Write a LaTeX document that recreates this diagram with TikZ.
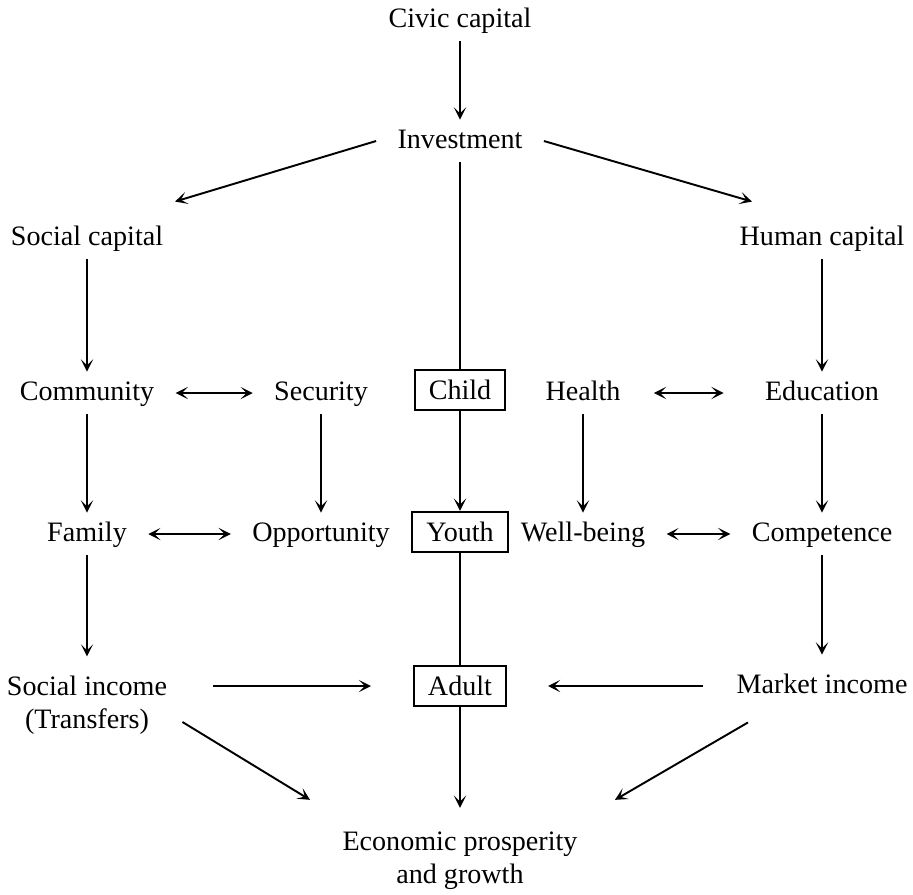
\documentclass[tikz,border=0pt]{standalone}
\usepackage{fontspec}
\setmainfont{Liberation Serif}
\usepackage{tikz}
\usetikzlibrary{arrows.meta}

\begin{document}
\begin{tikzpicture}[x=0.02cm, y=-0.02cm,
    every node/.style={font=\fontsize{16}{19}\selectfont},
    txt/.style={inner xsep=12pt, inner ysep=5pt, text height=11pt, text depth=3pt},
    twoline/.style={inner xsep=12pt, inner ysep=5pt, align=center},
    stage/.style={draw, line width=1.1pt, inner xsep=8pt, inner ysep=6pt, text height=11pt, text depth=0pt},
    link/.style={-{Stealth[length=7pt,width=7pt,inset=3.5pt]}, line width=1.1pt},
    both/.style={{Stealth[length=7pt,width=7pt,inset=3.5pt]}-{Stealth[length=7pt,width=7pt,inset=3.5pt]}, line width=1.1pt},
    plain/.style={line width=1.1pt}]
    \useasboundingbox (0,0) rectangle (913,894);

    % Capitals
    \node[txt] (civic) at (460,20) {Civic capital};
    \node[txt] (invest) at (460,141) {Investment};
    \node[txt] (social) at (87,238) {Social capital};
    \node[txt] (human) at (822,238) {Human capital};

    % Middle rows
    \node[txt] (community) at (87,393) {Community};
    \node[txt] (security) at (321,393) {Security};
    \node[stage] (child) at (460,390) {Child};
    \node[txt] (health) at (583,393) {Health};
    \node[txt] (edu) at (822,393) {Education};
    \node[txt] (family) at (87,534) {Family};
    \node[txt] (opport) at (321,534) {Opportunity};
    \node[stage] (youth) at (460,532) {Youth};
    \node[txt] (wellbeing) at (583,534) {Well-being};
    \node[txt] (compet) at (822,534) {Competence};

    % Incomes and outcome
    \node[twoline] (socinc) at (87,705) {Social income\\(Transfers)};
    \node[stage] (adult) at (460,686) {Adult};
    \node[txt] (mktinc) at (822,686) {Market income};
    \node[twoline] (econ) at (460,861) {Economic prosperity\\and growth};

    \draw[link] (civic) -- (invest);
    \draw[link] (invest.west) -- ([shift={(88,-15)}]social.north);
    \draw[link] (invest.east) -- ([shift={(-70,-15)}]human.north);
    \draw[plain] (invest) -- (child);
    \draw[link] (social) -- (community);
    \draw[link] (human) -- (edu);

    \draw[both] (community) -- (security);
    \draw[both, shorten <=0.24cm, shorten >=0.4cm] (health) -- (edu);
    \draw[link] (security) -- (opport);
    \draw[link] (child) -- (youth);
    \draw[link] (health) -- (wellbeing);
    \draw[link] (edu) -- (compet);
    \draw[link] (community) -- (family);
    \draw[both] (family) -- (opport);
    \draw[both] (wellbeing) -- (compet);

    \draw[link, shorten >=0.2cm] (family) -- (socinc);
    \draw[link, shorten >=0.2cm] (compet) -- (mktinc);
    \draw[plain] (youth) -- (adult);
    \draw[link, shorten <=0.5cm, shorten >=0.84cm] (socinc.east |- adult) -- (adult);
    \draw[link, shorten <=0.24cm, shorten >=0.82cm] (mktinc) -- (adult);
    \draw[link, shorten >=0.3cm] (adult) -- (econ);
    \draw[link] ([shift={(-6,17)}]socinc.east) -- ([shift={(-150,-23)}]econ.north);
    \draw[link] ([shift={(-74,15)}]mktinc.south) -- ([shift={(155,-23)}]econ.north);
\end{tikzpicture}
\end{document}
